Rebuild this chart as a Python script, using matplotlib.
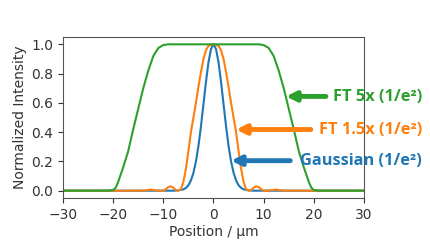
import matplotlib.pyplot as plt
import numpy as np

# profiles (position in um, normalized intensity)
x_gauss = [-30, -10, -8, -7, -6, -5.5, -5, -4.5, -4, -3.5, -3, -2.5, -2, -1.5, -1, -0.5, 0,
           0.5, 1, 1.5, 2, 2.5, 3, 3.5, 4, 4.5, 5, 5.5, 6, 7, 8, 10, 30]
y_gauss = [0, 0, 0, 0.002, 0.009, 0.019, 0.037, 0.07, 0.122, 0.2, 0.306, 0.44, 0.591, 0.744, 0.877, 0.968, 1.0,
           0.968, 0.877, 0.744, 0.591, 0.44, 0.306, 0.2, 0.122, 0.07, 0.037, 0.019, 0.009, 0.002, 0, 0, 0]

x_ft15 = [-30, -14, -13, -12.5, -12, -11, -10, -9.5, -9, -8.5, -8, -7.5, -7, -6.5, -6, -5.5, -5, -4.5,
          -4, -3.5, -3, -2.5, -2, -1.5, -1, 0, 1, 1.5, 2, 2.5, 3, 3.5, 4, 4.5, 5, 5.5, 6, 6.5, 7, 7.5,
          8, 8.5, 9, 9.5, 10, 11, 12, 12.5, 13, 14, 30]
y_ft15 = [0, 0, 0.005, 0.008, 0.005, 0, 0, 0.01, 0.025, 0.03, 0.02, 0.005, 0, 0.01, 0.06, 0.15, 0.27, 0.4,
          0.5, 0.6, 0.71, 0.81, 0.9, 0.96, 0.99, 1.0, 0.99, 0.96, 0.9, 0.81, 0.71, 0.6, 0.5, 0.4, 0.27, 0.15,
          0.06, 0.01, 0, 0.005, 0.02, 0.03, 0.025, 0.01, 0, 0, 0.005, 0.008, 0.005, 0, 0]

x_ft5 = [-30, -21, -20, -19.5, -19, -18, -17, -16, -15, -14, -13, -12, -11, -10, -9, 0,
         9, 10, 11, 12, 13, 14, 15, 16, 17, 18, 19, 19.5, 20, 21, 30]
y_ft5 = [0, 0, 0.005, 0.02, 0.06, 0.16, 0.27, 0.42, 0.56, 0.7, 0.82, 0.92, 0.975, 0.995, 1.0, 1.0,
         1.0, 0.995, 0.975, 0.92, 0.82, 0.7, 0.56, 0.42, 0.27, 0.16, 0.06, 0.02, 0.005, 0, 0]

labels = ['FT 5x (1/e\u00b2)', 'FT 1.5x (1/e\u00b2)', 'Gaussian (1/e\u00b2)']
colors = ['#2ca02c', '#ff7f0e', '#1f77b4']
arrow_tips = [(14.45, 0.644), (4.5, 0.418), (3.5, 0.205)]
arrow_tails = [(22.4, 0.644), (19.4, 0.418), (15.3, 0.205)]
text_pos = [(41.6, 0.643), (41.6, 0.418), (41.6, 0.205)]

fig = plt.figure(figsize=(4.31, 2.45), dpi=100)
ax = fig.add_axes([63 / 431, 1 - 198 / 245, 301 / 431, 161 / 245])

ax.plot(x_gauss, y_gauss, color=colors[2], lw=1.5)
ax.plot(x_ft15, y_ft15, color=colors[1], lw=1.5)
ax.plot(x_ft5, y_ft5, color=colors[0], lw=1.5)

ax.set_xlim(-30, 30)
ax.set_ylim(-0.05, 1.05)
ax.set_xticks([-30, -20, -10, 0, 10, 20, 30])
ax.set_yticks([0, 0.2, 0.4, 0.6, 0.8, 1.0])
ax.tick_params(labelsize=10, colors='#333333', labelcolor='#333333')
ax.set_xlabel('Position / \u03bcm', fontsize=10, color='#333333', labelpad=2)
ax.set_ylabel('Normalized Intensity', fontsize=10, color='#333333', labelpad=3)
for s in ax.spines.values():
    s.set_color('#555555')

for lab, c, tip, tail, tp in zip(labels, colors, arrow_tips, arrow_tails, text_pos):
    ax.annotate('', xy=tip, xytext=tail, annotation_clip=False,
                arrowprops=dict(arrowstyle='-|>', lw=3.5, color=c, mutation_scale=14,
                                shrinkA=0, shrinkB=0))
    ax.text(tp[0], tp[1], lab, color=c, fontsize=11.8, fontweight='bold',
            family=['Open Sans', 'DejaVu Sans'], ha='right', va='center', clip_on=False)

fig.savefig('out.png', dpi=100)
